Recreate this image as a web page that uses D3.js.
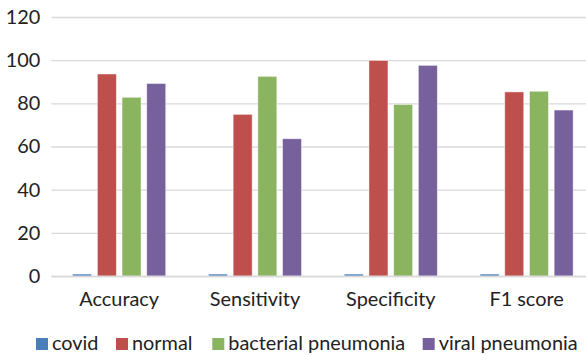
<!DOCTYPE html>
<html>
<head>
<meta charset="utf-8">
<script src="https://cdn.jsdelivr.net/npm/d3@7"></script>
<style>
  html, body { margin: 0; padding: 0; background: #fff; }
  svg { display: block; }
</style>
</head>
<body>
<svg id="chart" width="586" height="355"></svg>
<script>
const categories = ["Accuracy", "Sensitivity", "Specificity", "F1 score"];
const seriesNames = ["covid", "normal", "bacterial pneumonia", "viral pneumonia"];
const covid = [0.9, 0.9, 0.9, 0.9];
const normal = [93.6, 74.9, 99.9, 85.3];
const bacterial = [82.8, 92.5, 79.5, 85.6];
const viral = [89.2, 63.6, 97.6, 76.9];
const yTicks = [0, 20, 40, 60, 80, 100, 120];
const colors = ["#4a7ebb", "#be4f4c", "#8bb460", "#77619c"];

const seriesValues = [covid, normal, bacterial, viral];
const data = categories.map((c, i) => ({
  category: c,
  values: seriesNames.map((s, j) => ({ series: s, value: seriesValues[j][i] }))
}));

const svg = d3.select("#chart");
const fontFamily = "Lato, 'Open Sans', sans-serif";

// fit font size so text widths resemble the reference
const probe = svg.append("text").attr("font-family", fontFamily).attr("font-size", 100).text("viral pneumonia");
const fs = 100 * 139 / probe.node().getComputedTextLength();
probe.remove();

const plotLeft = 51.3, plotRight = 594.5, plotTop = 17, plotBottom = 276;

const x0 = d3.scaleBand().domain(categories).range([plotLeft, plotRight]).paddingInner(0).paddingOuter(0);
const innerSpan = 93.1;
const innerOffset = (x0.bandwidth() - innerSpan) / 2;
const x1 = d3.scaleBand().domain(seriesNames).range([innerOffset, innerOffset + innerSpan]).paddingInner(0.23).paddingOuter(0);
const y = d3.scaleLinear().domain([0, 120]).range([plotBottom, plotTop]);
const color = d3.scaleOrdinal().domain(seriesNames).range(colors);

// gridlines
const yAxis = d3.axisLeft(y).tickValues(yTicks).tickSize(-(plotRight - plotLeft)).tickPadding(11);
const gy = svg.append("g").attr("transform", `translate(${plotLeft},0)`).call(yAxis);
gy.select(".domain").remove();
gy.selectAll(".tick line").attr("stroke", "#d9d9d9").attr("stroke-width", 1.3);
gy.selectAll(".tick text")
  .attr("font-family", fontFamily).attr("font-size", fs).attr("fill", "#222");

// bars
const groups = svg.append("g").selectAll("g").data(data).join("g")
  .attr("transform", d => `translate(${x0(d.category)},0)`);
groups.selectAll("rect").data(d => d.values).join("rect")
  .attr("x", d => x1(d.series))
  .attr("y", d => y(d.value))
  .attr("width", x1.bandwidth())
  .attr("height", d => y(0) - y(d.value))
  .attr("fill", d => color(d.series))
  .attr("stroke", "rgba(255,255,255,0.6)")
  .attr("stroke-width", 0.8);

// x axis
const xAxis = d3.axisBottom(x0).tickSize(0).tickPadding(16);
const gx = svg.append("g").attr("transform", `translate(0,${plotBottom})`).call(xAxis);
gx.select(".domain").attr("stroke", "#d9d9d9").attr("stroke-width", 1.3);
gx.selectAll(".tick text")
  .attr("font-family", fontFamily).attr("font-size", fs).attr("fill", "#222");

// legend
const legendX = [36, 116, 212.3, 422.7];
const legend = svg.append("g").selectAll("g").data(seriesNames).join("g")
  .attr("transform", (d, i) => `translate(${legendX[i]},338)`);
legend.append("rect").attr("width", 12).attr("height", 12).attr("fill", d => color(d));
legend.append("text").attr("x", 16).attr("y", 12)
  .attr("font-family", fontFamily).attr("font-size", fs).attr("fill", "#222")
  .text(d => d);
</script>
</body>
</html>
